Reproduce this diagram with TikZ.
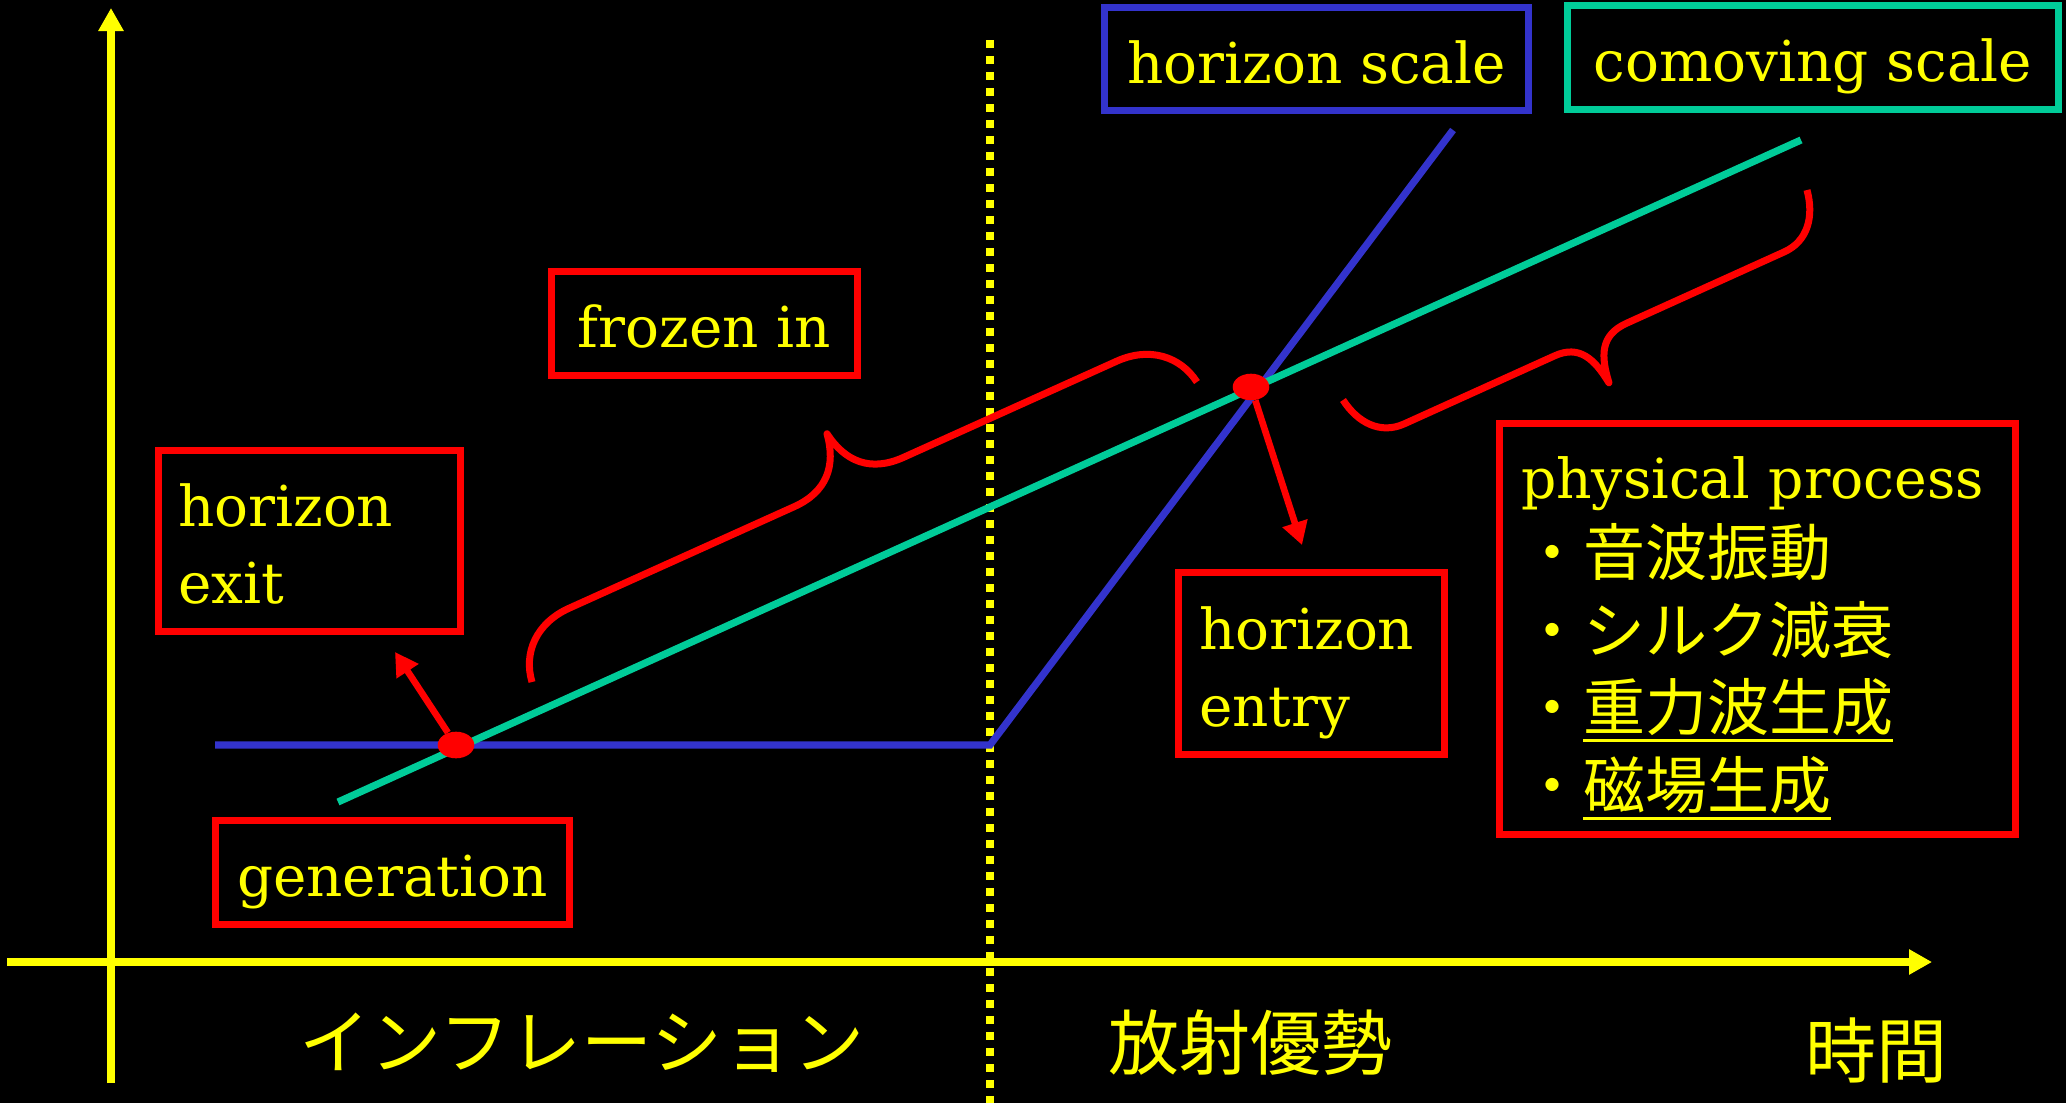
\documentclass[tikz,border=0pt]{standalone}
\usepackage{fontspec}
\setmainfont{DejaVu Serif}
\newfontfamily\jpfont{Noto Sans CJK JP}
\usetikzlibrary{arrows.meta,shapes.geometric}
\definecolor{ylw}{RGB}{255,255,0}
\definecolor{rd}{RGB}{255,0,0}
\definecolor{bl}{RGB}{51,51,204}
\definecolor{gr}{RGB}{0,204,153}
\newsavebox\ulbx
\newcommand\myul[1]{\sbox\ulbx{#1}\makebox[0pt][l]{\rule[-5.75pt]{\wd\ulbx}{1.5pt}}\usebox\ulbx}
\newcommand\jpbox{\jpfont\fontsize{31}{38.75}\selectfont}
\tikzset{
  lbl/.style={text=ylw, font=\fontsize{28.2}{38.5}\selectfont},
  framebox/.style={draw, line width=3.6pt, fill=black, inner ysep=0pt, lbl},
  onebox/.style={framebox, text height=24pt, text depth=0pt, inner xsep=0pt},
  axisline/.style={ylw, line width=4pt, -{Triangle[length=11.5pt,width=12pt]}},
  scaleline/.style={line width=3.6pt},
  bracestyle/.style={rd, line width=3.5pt, line join=round},
  redarrow/.style={rd, line width=3.3pt, -{Triangle[length=11.5pt,width=12.5pt]}},
  reddot/.style={ellipse, fill=rd, minimum width=18.3pt, minimum height=13.3pt, inner sep=0pt},
  axlabel/.style={text=ylw, font=\jpfont\fontsize{35.5}{40}\selectfont, inner sep=0pt}
}
\begin{document}
\begin{tikzpicture}[x=0.5pt,y=-0.5pt]
\fill[black] (0,0) rectangle (2066,1103);
\useasboundingbox (0,0) rectangle (2066,1103);

% dotted separator
\coordinate (dtop) at (990,40);
\coordinate (dbot) at (990,1103);
\draw[ylw, line width=4pt, dash pattern=on 4pt off 4pt] (dtop) -- (dbot);

% axes
\coordinate (yb) at (111,1083);
\coordinate (yt) at (111,8);
\coordinate (xl) at (7,962);
\coordinate (xr) at (1932,962);
\draw[axisline] (yb) -- (yt);
\draw[axisline, line width=3.6pt] (xl) -- (xr);

% horizon scale (blue) and comoving scale (green)
\coordinate (b1) at (215,745);
\coordinate (b2) at (990,745);
\coordinate (b3) at (1453,130);
\coordinate (g1) at (338,802);
\coordinate (g2) at (1801,140);
\draw[scaleline, bl] (b1) -- (b2) -- (b3);
\draw[scaleline, gr] (g1) -- (g2);

% braces
\begin{scope}[shift={(532,682)}, rotate=24.28]
\draw[bracestyle] (0,0) .. controls (4,-30) and (28,-52) .. (64,-52) -- (311,-52)
  .. controls (347,-52) and (366,-72) .. (371,-105)
  .. controls (376,-72) and (395,-52) .. (431,-52) -- (665,-52)
  .. controls (701,-52) and (725,-30) .. (729.5,0);
\end{scope}
\begin{scope}[shift={(1343,400)}, rotate=24.35]
\draw[bracestyle] (0,0) .. controls (4,27) and (20,47) .. (46,47) -- (211,47)
  .. controls (238,47) and (246,66) .. (249.4,94)
  .. controls (253,66) and (261,47) .. (290,47) -- (463,47)
  .. controls (489,47) and (505,27) .. (509.3,0);
\end{scope}

% red dots and arrows
\node[reddot] (d1) at (456,745) {};
\node[reddot] (d2) at (1251,387) {};
\coordinate (a1) at (395,652);
\coordinate (a2) at (1302,545);
\draw[redarrow] (d1) -- (a1);
\draw[redarrow] (d2) -- (a2);

% boxes
\node[onebox, draw=bl, minimum width=212pt, minimum height=51.5pt] (hs) at (1316.5,59) {horizon scale};
\node[onebox, draw=gr, minimum width=245.5pt, minimum height=52pt] (cs) at (1813,57.5) {comoving scale};
\node[onebox, draw=rd, minimum width=153pt, minimum height=52pt] (frz) at (704.5,323.5) {frozen in};
\node[onebox, draw=rd, minimum width=177pt, minimum height=52pt] (gen) at (392.5,872.5) {generation};
\node[framebox, draw=rd, minimum width=151pt, minimum height=90.5pt, text width=131.5pt, inner xsep=9.75pt, align=left, text height=24pt, text depth=38.5pt] (hexit) at (309.5,541) {horizon\\exit};
\node[framebox, draw=rd, minimum width=133pt, minimum height=91pt, text width=112.5pt, inner xsep=10.25pt, align=left, text height=24pt, text depth=38.5pt] (hentry) at (1311.5,663.5) {horizon\\entry};
\node[framebox, draw=rd, font=\fontsize{27.6}{38.75}\selectfont, minimum width=258pt, minimum height=205.5pt, text width=236.5pt, inner xsep=10.75pt, align=left, text height=24pt, text depth=155pt] (phys) at (1757.5,629) {physical~process\\
{\jpbox ・音波振動}\\
{\jpbox ・シルク減衰}\\
{\jpbox ・\myul{重力波生成}}\\
{\jpbox ・\myul{磁場生成}}};

% axis labels
\node[axlabel] (infl) at (582,1043) {インフレーション};
\node[axlabel] (rad) at (1250,1043) {放射優勢};
\node[axlabel] (time) at (1876,1051) {時間};
\end{tikzpicture}
\end{document}
